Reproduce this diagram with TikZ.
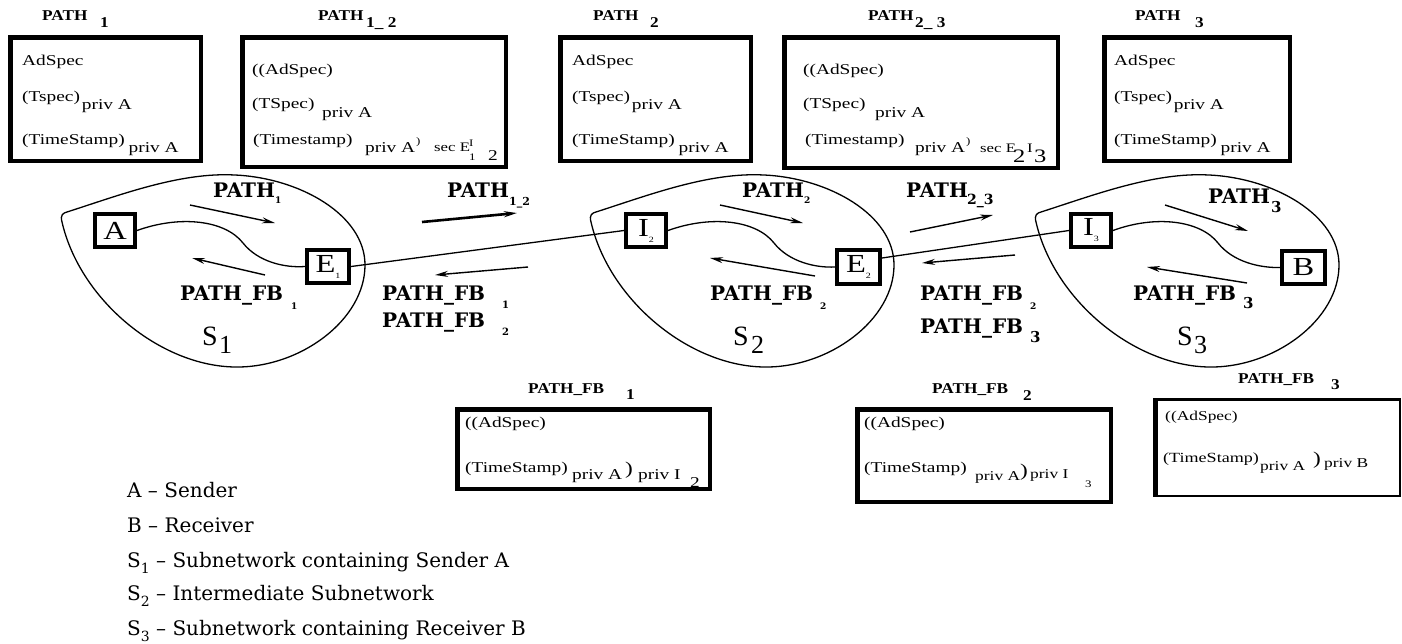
\documentclass[tikz,border=0pt]{standalone}
\usepackage{fontspec}
\setmainfont{Liberation Serif}
\newfontfamily\boxfont{Liberation Serif}[FakeStretch=1.29]
\newfontfamily\headfont{Liberation Serif}[FakeStretch=1.15]
\newfontfamily\letterfont{Liberation Serif}[FakeStretch=1.25]
\newfontfamily\slabfont{DejaVu Serif}
\newfontfamily\legfont{DejaVu Serif}
\usetikzlibrary{arrows.meta}
\newcommand\fsz[1]{\fontsize{#1}{#1}\selectfont}
\newcommand\lowered[1]{\raisebox{-8pt}{#1}}
\newcommand\nsub[1]{\raisebox{-6pt}{\fsz{8}#1}}
\newcommand\lsub[1]{\raisebox{-6pt}{\fsz{14}#1}}
\tikzset{
  bigbox/.style={draw, line width=4.5pt, inner sep=0pt},
  netnode/.style={draw, fill=white, line width=4pt, inner sep=0pt,
    minimum width=40pt, minimum height=33pt, font=\letterfont\fsz{26}},
  txt/.style={anchor=base west, inner sep=0pt, font=\boxfont\fsz{15}},
  midtxt/.style={anchor=base west, inner sep=0pt, font=\boxfont\fsz{13.5}},
  smalltxt/.style={anchor=base west, inner sep=0pt, font=\boxfont\fsz{13}},
  tinytxt/.style={anchor=base west, inner sep=0pt, font=\boxfont\fsz{10}},
  head/.style={anchor=base west, inner sep=0pt, font=\headfont\bfseries\fsz{15}},
  flow/.style={anchor=base west, inner sep=0pt, font=\slabfont\bfseries\fsz{20}},
  flowsub/.style={anchor=base west, inner sep=0pt, font=\slabfont\bfseries\fsz{9}},
  legend/.style={anchor=base west, inner sep=0pt, font=\legfont\fsz{20}},
  netlabel/.style={anchor=base west, inner sep=0pt, font=\fsz{28}},
  blob/.style={line width=1.3pt},
  link/.style={line width=1.3pt},
  flowarrow/.style={line width=1.4pt, -{Stealth[length=13pt,width=6pt]}},
}
\begin{document}
\begin{tikzpicture}[x=1pt,y=-1pt]
\useasboundingbox (0,0) rectangle (1402,643);

% ---- subnetwork outlines ----
\foreach \dx in {0,529,974}{
  \begin{scope}[xshift=\dx pt]
    \draw[blob] (67,212) .. controls (120,195) and (180,172) .. (235,175)
      .. controls (300,178) and (365,215) .. (365,265)
      .. controls (365,320) and (300,368) .. (235,367)
      .. controls (160,366) and (80,300) .. (62,222)
      .. controls (60,215) and (63,213) .. (67,212) -- cycle;
  \end{scope}
}

% ---- message boxes ----
\node[bigbox, minimum width=190.5pt, minimum height=123.5pt] (boxP1) at (105.5,99) {};
\node[bigbox, minimum width=263.5pt, minimum height=129.5pt] (boxP12) at (374,102) {};
\node[bigbox, minimum width=190.5pt, minimum height=123.5pt] (boxP2) at (655.5,99) {};
\node[bigbox, minimum width=273.5pt, minimum height=130.5pt] (boxP23) at (921,102.5) {};
\node[bigbox, minimum width=185.5pt, minimum height=123.5pt] (boxP3) at (1197,99) {};
\node[bigbox, minimum width=252.5pt, minimum height=79.5pt] (boxF1) at (583.5,449) {};
\node[bigbox, minimum width=253.5pt, minimum height=92.5pt] (boxF2) at (984,455.5) {};
\node[draw, line width=2.5pt, inner sep=0pt, minimum width=243.5pt, minimum height=96.5pt] (boxF3) at (1278,447.5) {};
\draw[line width=4.5pt] (boxF3.north west) -- (boxF3.south west);

% ---- box titles ----
\node[head] (h1) at (42,20) {PATH};
\node[head] (h1s) at (100,27) {1};
\node[head] (h12) at (318,20) {PATH};
\node[head] (h12s) at (366,27) {1\_ 2};
\node[head] (h2) at (593,20) {PATH};
\node[head] (h2s) at (650,27) {2};
\node[head] (h23) at (868,20) {PATH};
\node[head] (h23s) at (915,27) {2\_ 3};
\node[head] (h3) at (1135,20) {PATH};
\node[head] (h3s) at (1195,27) {3};
\node[head] (fh1) at (528,393) {PATH\_FB};
\node[head] (fh1s) at (626,399) {1};
\node[head] (fh2) at (932,393) {PATH\_FB};
\node[head] (fh2s) at (1023,400) {2};
\node[head] (fh3) at (1238,383) {PATH\_FB};
\node[head] (fh3s) at (1331,389) {3};

% ---- box contents: PATH 1, 2, 3 ----
\node[txt] (t1a) at (22,65) {AdSpec};
\node[txt] (t1b) at (22,101) {(Tspec)\hspace{2pt}\lowered{priv A}};
\node[txt] (t1c) at (22,144) {(TimeStamp)\hspace{4pt}\lowered{priv A}};
\node[txt] (t2a) at (572,65) {AdSpec};
\node[txt] (t2b) at (572,101) {(Tspec)\hspace{2pt}\lowered{priv A}};
\node[txt] (t2c) at (572,144) {(TimeStamp)\hspace{4pt}\lowered{priv A}};
\node[txt] (t3a) at (1114,65) {AdSpec};
\node[txt] (t3b) at (1114,101) {(Tspec)\hspace{2pt}\lowered{priv A}};
\node[txt] (t3c) at (1114,144) {(TimeStamp)\hspace{4pt}\lowered{priv A}};

% ---- box contents: PATH 1_2 ----
\node[txt] (t12a) at (252,74) {((AdSpec)};
\node[txt] (t12b) at (252,108) {(TSpec)};
\node[txt] (t12c) at (322,117) {priv A};
\node[txt] (t12d) at (253,144) {(Timestamp)};
\node[txt] (t12e) at (365,152) {priv A};
\node[tinytxt] (t12f) at (416,144) {)};
\node[smalltxt] (t12g) at (434,151) {sec E};
\node[tinytxt] (t12h) at (469,146) {I};
\node[tinytxt] (t12i) at (469,160) {1};
\node[txt] (t12j) at (488,160) {2};

% ---- box contents: PATH 2_3 ----
\node[txt] (t23a) at (803,74) {((AdSpec)};
\node[txt] (t23b) at (803,108) {(TSpec)};
\node[txt] (t23c) at (875,117) {priv A};
\node[txt] (t23d) at (805,144) {(Timestamp)};
\node[txt] (t23e) at (915,152) {priv A};
\node[tinytxt] (t23f) at (966,144) {)};
\node[smalltxt] (t23g) at (980,152) {sec E};
\node[txt, font=\boxfont\fsz{19}] (t23h) at (1013,162) {2};
\node[smalltxt] (t23i) at (1027,152) {I};
\node[txt, font=\boxfont\fsz{19}] (t23j) at (1034,162) {3};

% ---- box contents: PATH_FB 1, 2, 3 ----
\node[txt] (f1a) at (465,427) {((AdSpec)};
\node[txt] (f1b) at (465,472) {(TimeStamp)};
\node[txt] (f1c) at (572,479) {priv A};
\node[txt, font=\boxfont\fsz{18}] (f1d) at (625,474) {)};
\node[txt] (f1e) at (638,479) {priv I};
\node[txt] (f1f) at (690,487) {2};
\node[txt] (f2a) at (864,427) {((AdSpec)};
\node[txt] (f2b) at (864,472) {(TimeStamp)};
\node[midtxt] (f2c) at (975,480) {priv A};
\node[txt, font=\boxfont\fsz{18}] (f2d) at (1020,476) {)};
\node[midtxt] (f2e) at (1030,478) {priv I};
\node[tinytxt] (f2f) at (1085,487) {3};
\node[midtxt] (f3a) at (1165,420) {((AdSpec)};
\node[midtxt, font=\boxfont\fsz{14}] (f3b) at (1163,462) {(TimeStamp)};
\node[midtxt] (f3c) at (1260,470) {priv A};
\node[txt, font=\boxfont\fsz{18}] (f3d) at (1313,464) {)};
\node[midtxt] (f3e) at (1324,467) {priv B};

% ---- network elements ----
\node[netnode] (A) at (115,230.5) {A};
\node[netnode, minimum width=42pt] (E1) at (328,266.5) {E\nsub{1}};
\node[netnode] (I2) at (646,230.5) {I\nsub{2}};
\node[netnode, minimum width=43pt, minimum height=34pt] (E2) at (858.5,267) {E\nsub{2}};
\node[netnode] (I3) at (1091,230.5) {I\nsub{3}};
\node[netnode, minimum width=43pt] (B) at (1303.5,267.5) {B};

% ---- links ----
\draw[link] (A.east) .. controls (180,215) and (225,220) .. (243,243)
  .. controls (258,262) and (285,268) .. (E1.west);
\draw[link] (I2.east) .. controls (711,215) and (756,220) .. (774,243)
  .. controls (789,262) and (816,268) .. (E2.west);
\draw[link] (I3.east) .. controls (1155,215) and (1200,220) .. (1218,243)
  .. controls (1233,262) and (1260,268) .. (B.west);
\draw[link] (E1.east) -- (I2.west);
\draw[link] ([yshift=9pt]E2.east) -- (I3.west);

% ---- message flow arrows ----
\coordinate (p1s) at (190,205);   \coordinate (p1e) at (275,223);
\coordinate (fb1s) at (265,275);  \coordinate (fb1e) at (192,258);
\coordinate (p12s) at (422,222);  \coordinate (p12e) at (517,213);
\coordinate (fb12s) at (528,267); \coordinate (fb12e) at (435,275);
\coordinate (p2s) at (720,205);   \coordinate (p2e) at (803,223);
\coordinate (fb2s) at (815,276);  \coordinate (fb2e) at (710,258);
\coordinate (p23s) at (910,232);  \coordinate (p23e) at (993,215);
\coordinate (fb23s) at (1015,255);\coordinate (fb23e) at (922,263);
\coordinate (p3s) at (1165,205);  \coordinate (p3e) at (1248,231);
\coordinate (fb3s) at (1247,283); \coordinate (fb3e) at (1147,267);
\draw[flowarrow] (p1s) -- (p1e);
\draw[flowarrow] (fb1s) -- (fb1e);
\draw[flowarrow, line width=2.6pt] (p12s) -- (p12e);
\draw[flowarrow] (fb12s) -- (fb12e);
\draw[flowarrow] (p2s) -- (p2e);
\draw[flowarrow] (fb2s) -- (fb2e);
\draw[flowarrow] (p23s) -- (p23e);
\draw[flowarrow] (fb23s) -- (fb23e);
\draw[flowarrow] (p3s) -- (p3e);
\draw[flowarrow] (fb3s) -- (fb3e);

% ---- flow labels ----
\node[flow] (lp1) at (213,197) {PATH};
\node[flowsub] (lp1s) at (275,203) {1};
\node[flow] (lfb1) at (180,300) {PATH\_FB};
\node[flowsub] (lfb1s) at (291,309) {1};
\node[flow] (lp12) at (447,197) {PATH};
\node[flowsub, font=\slabfont\bfseries\fsz{11}] (lp12s) at (509,205) {1\_2};
\node[flow] (lfb12a) at (382,300) {PATH\_FB};
\node[flow] (lfb12b) at (382,327) {PATH\_FB};
\node[flowsub, font=\slabfont\bfseries\fsz{10}] (lfb12as) at (502,308) {1};
\node[flowsub, font=\slabfont\bfseries\fsz{10}] (lfb12bs) at (502,335) {2};
\node[flow] (lp2) at (742,197) {PATH};
\node[flowsub] (lp2s) at (804,203) {2};
\node[flow] (lfb2) at (710,300) {PATH\_FB};
\node[flowsub] (lfb2s) at (820,309) {2};
\node[flow] (lp23) at (906,197) {PATH};
\node[flowsub, font=\slabfont\bfseries\fsz{14}] (lp23s) at (967,204) {2\_3};
\node[flow] (lfb23a) at (920,300) {PATH\_FB};
\node[flowsub] (lfb23as) at (1030,309) {2};
\node[flow] (lfb23b) at (920,333) {PATH\_FB};
\node[flowsub, font=\slabfont\bfseries\fsz{15}] (lfb23bs) at (1030,342) {3};
\node[flow] (lp3) at (1208,203) {PATH};
\node[flowsub, font=\slabfont\bfseries\fsz{15}] (lp3s) at (1271,212) {3};
\node[flow] (lfb3) at (1133,300) {PATH\_FB};
\node[flowsub, font=\slabfont\bfseries\fsz{15}] (lfb3s) at (1243,308) {3};

% ---- subnetwork names ----
\node[netlabel] (s1) at (202,345) {S};
\node[netlabel, font=\fsz{26}] (s1n) at (219,353) {1};
\node[netlabel] (s2) at (733,345) {S};
\node[netlabel, font=\fsz{26}] (s2n) at (751,353) {2};
\node[netlabel] (s3) at (1177,345) {S};
\node[netlabel, font=\fsz{26}] (s3n) at (1194,353) {3};

% ---- legend ----
\node[legend] (leg1) at (127,497) {A – Sender};
\node[legend] (leg2) at (127,532) {B – Receiver};
\node[legend] (leg3) at (127,567) {S\lsub{1} – Subnetwork containing Sender A};
\node[legend] (leg4) at (127,600) {S\lsub{2} – Intermediate Subnetwork};
\node[legend] (leg5) at (127,635) {S\lsub{3} – Subnetwork containing Receiver B};
\end{tikzpicture}
\end{document}
